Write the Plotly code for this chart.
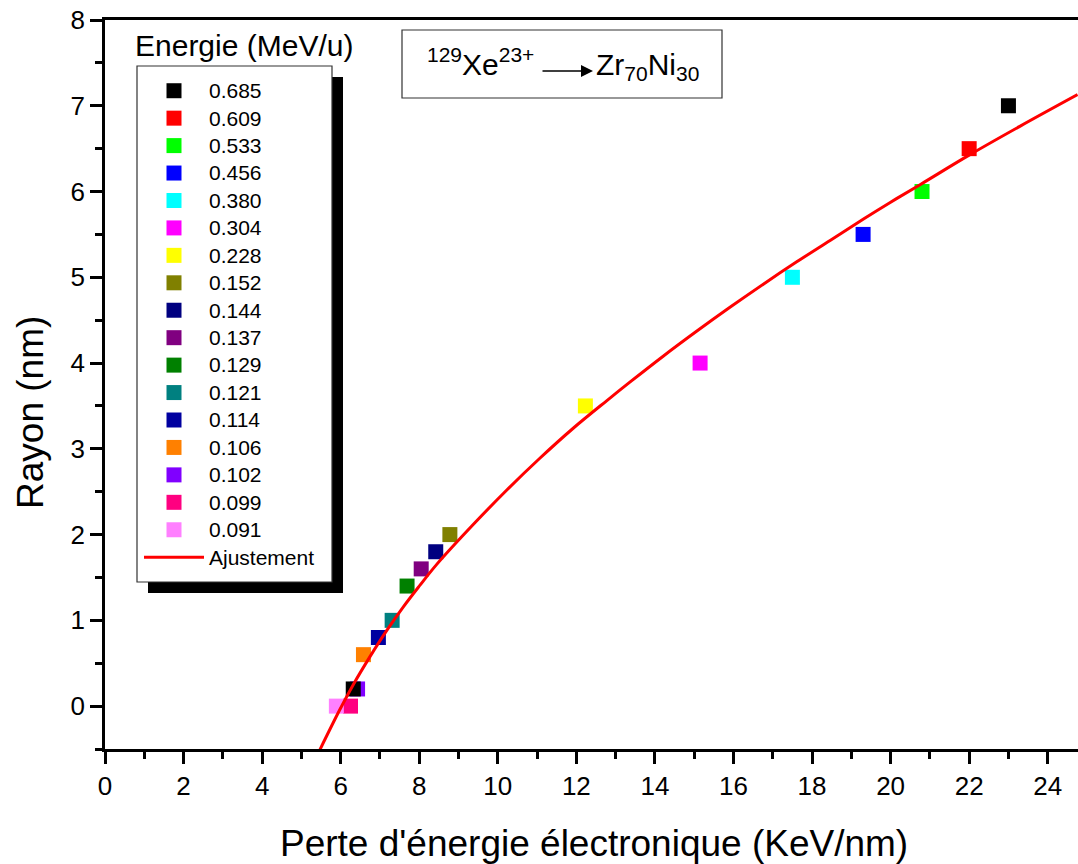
import plotly.graph_objects as go

# Energy of each ion beam (MeV/u) and measured track radius vs electronic stopping power
energies = ["0.685", "0.609", "0.533", "0.456", "0.380", "0.304", "0.228", "0.152",
            "0.144", "0.137", "0.129", "0.121", "0.114", "0.106", "0.102", "0.099", "0.091"]
se_values = [23.0, 22.0, 20.8, 19.3, 17.5, 15.15, 12.23, 8.78,
             8.42, 8.05, 7.69, 7.31, 6.96, 6.58, 6.43, 6.25, 5.89]
radius_values = [7.0, 6.5, 6.0, 5.5, 5.0, 4.0, 3.5, 2.0,
                 1.8, 1.6, 1.4, 1.0, 0.8, 0.6, 0.2, 0.0, 0.0]
colors = ["#000000", "#FF0000", "#00FF00", "#0000FF", "#00FFFF", "#FF00FF", "#FFFF00", "#808000",
          "#000080", "#800080", "#008000", "#008080", "#0000A0", "#FF8000", "#8000FF", "#FF0080", "#FF80FF"]

# additional black point near threshold
extra_se = [6.32]
extra_radius = [0.2]

# fitted curve (Ajustement)
fit_se = [5.47, 5.98, 6.32, 6.75, 7.17, 7.60, 8.02, 8.44, 9.38, 10.23, 11.07, 11.92,
          12.77, 13.37, 14.21, 15.06, 15.91, 16.76, 17.61, 18.46, 19.31, 19.98,
          20.75, 22.02, 23.29, 24.76]
fit_radius = [-0.51, -0.04, 0.25, 0.58, 0.88, 1.16, 1.41, 1.65, 2.12, 2.52, 2.89, 3.24,
              3.56, 3.78, 4.08, 4.37, 4.65, 4.92, 5.18, 5.43, 5.68, 5.87,
              6.08, 6.43, 6.76, 7.13]

x_ticks = list(range(0, 25, 2))
y_ticks = list(range(0, 9))

W, H = 1078, 864
L, R, T, B = 105, 0, 20, 115
PW, PH = W - L - R, H - T - B


def px(xp):
    return (xp - L) / PW


def py(yp):
    return (H - B - yp) / PH


FONT = "Liberation Sans, Arial, sans-serif"

fig = go.Figure()

for name, sx, ry, c in zip(energies, se_values, radius_values, colors):
    fig.add_trace(go.Scatter(
        x=[sx], y=[ry], mode="markers",
        name=f"<span style='font-size:21px'>{name}</span>",
        marker=dict(symbol="square", size=15, color=c, line=dict(width=0)),
    ))

fig.add_trace(go.Scatter(
    x=extra_se, y=extra_radius, mode="markers", showlegend=False,
    marker=dict(symbol="square", size=15, color="#000000", line=dict(width=0)),
))

fig.add_trace(go.Scatter(
    x=fit_se, y=fit_radius, mode="lines",
    name="<span style='font-size:21px'>Ajustement</span>",
    line=dict(color="#FF0000", width=3, shape="spline", smoothing=1.0),
))

axis_common = dict(
    showline=True, linecolor="black", linewidth=2.5,
    ticks="outside", ticklen=12, tickwidth=2.5, tickcolor="black",
    showgrid=False, zeroline=False,
    tickfont=dict(family=FONT, size=26, color="black"),
)

fig.update_xaxes(
    range=[0, (W - L) / 39.28], tickvals=x_ticks, mirror=True,
    minor=dict(dtick=1, tick0=0, ticks="outside", ticklen=7, tickwidth=2.5, tickcolor="black"),
    **axis_common,
)
fig.update_yaxes(
    range=[-0.5, 8], tickvals=y_ticks,
    minor=dict(dtick=0.5, tick0=0, ticks="outside", ticklen=7, tickwidth=2.5, tickcolor="black"),
    **axis_common,
)

shapes = [
    # legend drop shadow
    dict(type="rect", xref="paper", yref="paper",
         x0=px(148), x1=px(343), y0=py(593), y1=py(77),
         fillcolor="black", line=dict(width=0), layer="above"),
    # legend frame
    dict(type="rect", xref="paper", yref="paper",
         x0=px(137), x1=px(332), y0=py(582), y1=py(66),
         fillcolor="white", line=dict(color="#333333", width=1.2), layer="above"),
    # reaction label frame
    dict(type="rect", xref="paper", yref="paper",
         x0=px(402), x1=px(722), y0=py(98), y1=py(30),
         fillcolor="white", line=dict(color="#333333", width=1.2), layer="above"),
]

annotations = [
    dict(text="Perte d'énergie électronique (KeV/nm)", xref="paper", yref="paper",
         x=px(594), y=py(843), xanchor="center", yanchor="middle", showarrow=False,
         font=dict(family=FONT, size=37, color="black")),
    dict(text="Rayon (nm)", xref="paper", yref="paper", textangle=-90,
         x=px(30), y=py(413), xanchor="center", yanchor="middle", showarrow=False,
         font=dict(family=FONT, size=37, color="black")),
    dict(text="Energie (MeV/u)", xref="paper", yref="paper",
         x=px(133), y=py(45), xanchor="left", yanchor="middle", showarrow=False,
         font=dict(family=FONT, size=30, color="black")),
    dict(text="<sup>129</sup>Xe<sup>23+</sup>", xref="paper", yref="paper",
         x=px(536), y=py(62), xanchor="right", yanchor="middle", showarrow=False,
         font=dict(family=FONT, size=30, color="black")),
    dict(text="Zr<sub>70</sub>Ni<sub>30</sub>", xref="paper", yref="paper",
         x=px(594), y=py(66), xanchor="left", yanchor="middle", showarrow=False,
         font=dict(family=FONT, size=30, color="black")),
    dict(text="", xref="paper", yref="paper", axref="pixel", ayref="pixel",
         x=px(593), y=py(71), ax=-52, ay=0,
         showarrow=True, arrowhead=2, arrowsize=1.6, arrowwidth=1.5, arrowcolor="black"),
]

fig.update_layout(
    width=W, height=H,
    margin=dict(l=L, r=R, t=T, b=B),
    paper_bgcolor="white", plot_bgcolor="white",
    font=dict(family=FONT, color="black"),
    showlegend=True,
    legend=dict(
        x=px(139), y=py(72), xanchor="left", yanchor="top",
        bgcolor="rgba(0,0,0,0)", borderwidth=0,
        font=dict(family=FONT, size=18.8, color="black"),
        itemwidth=60, tracegroupgap=0,
    ),
    shapes=shapes,
    annotations=annotations,
)

fig.write_html("out.html")
